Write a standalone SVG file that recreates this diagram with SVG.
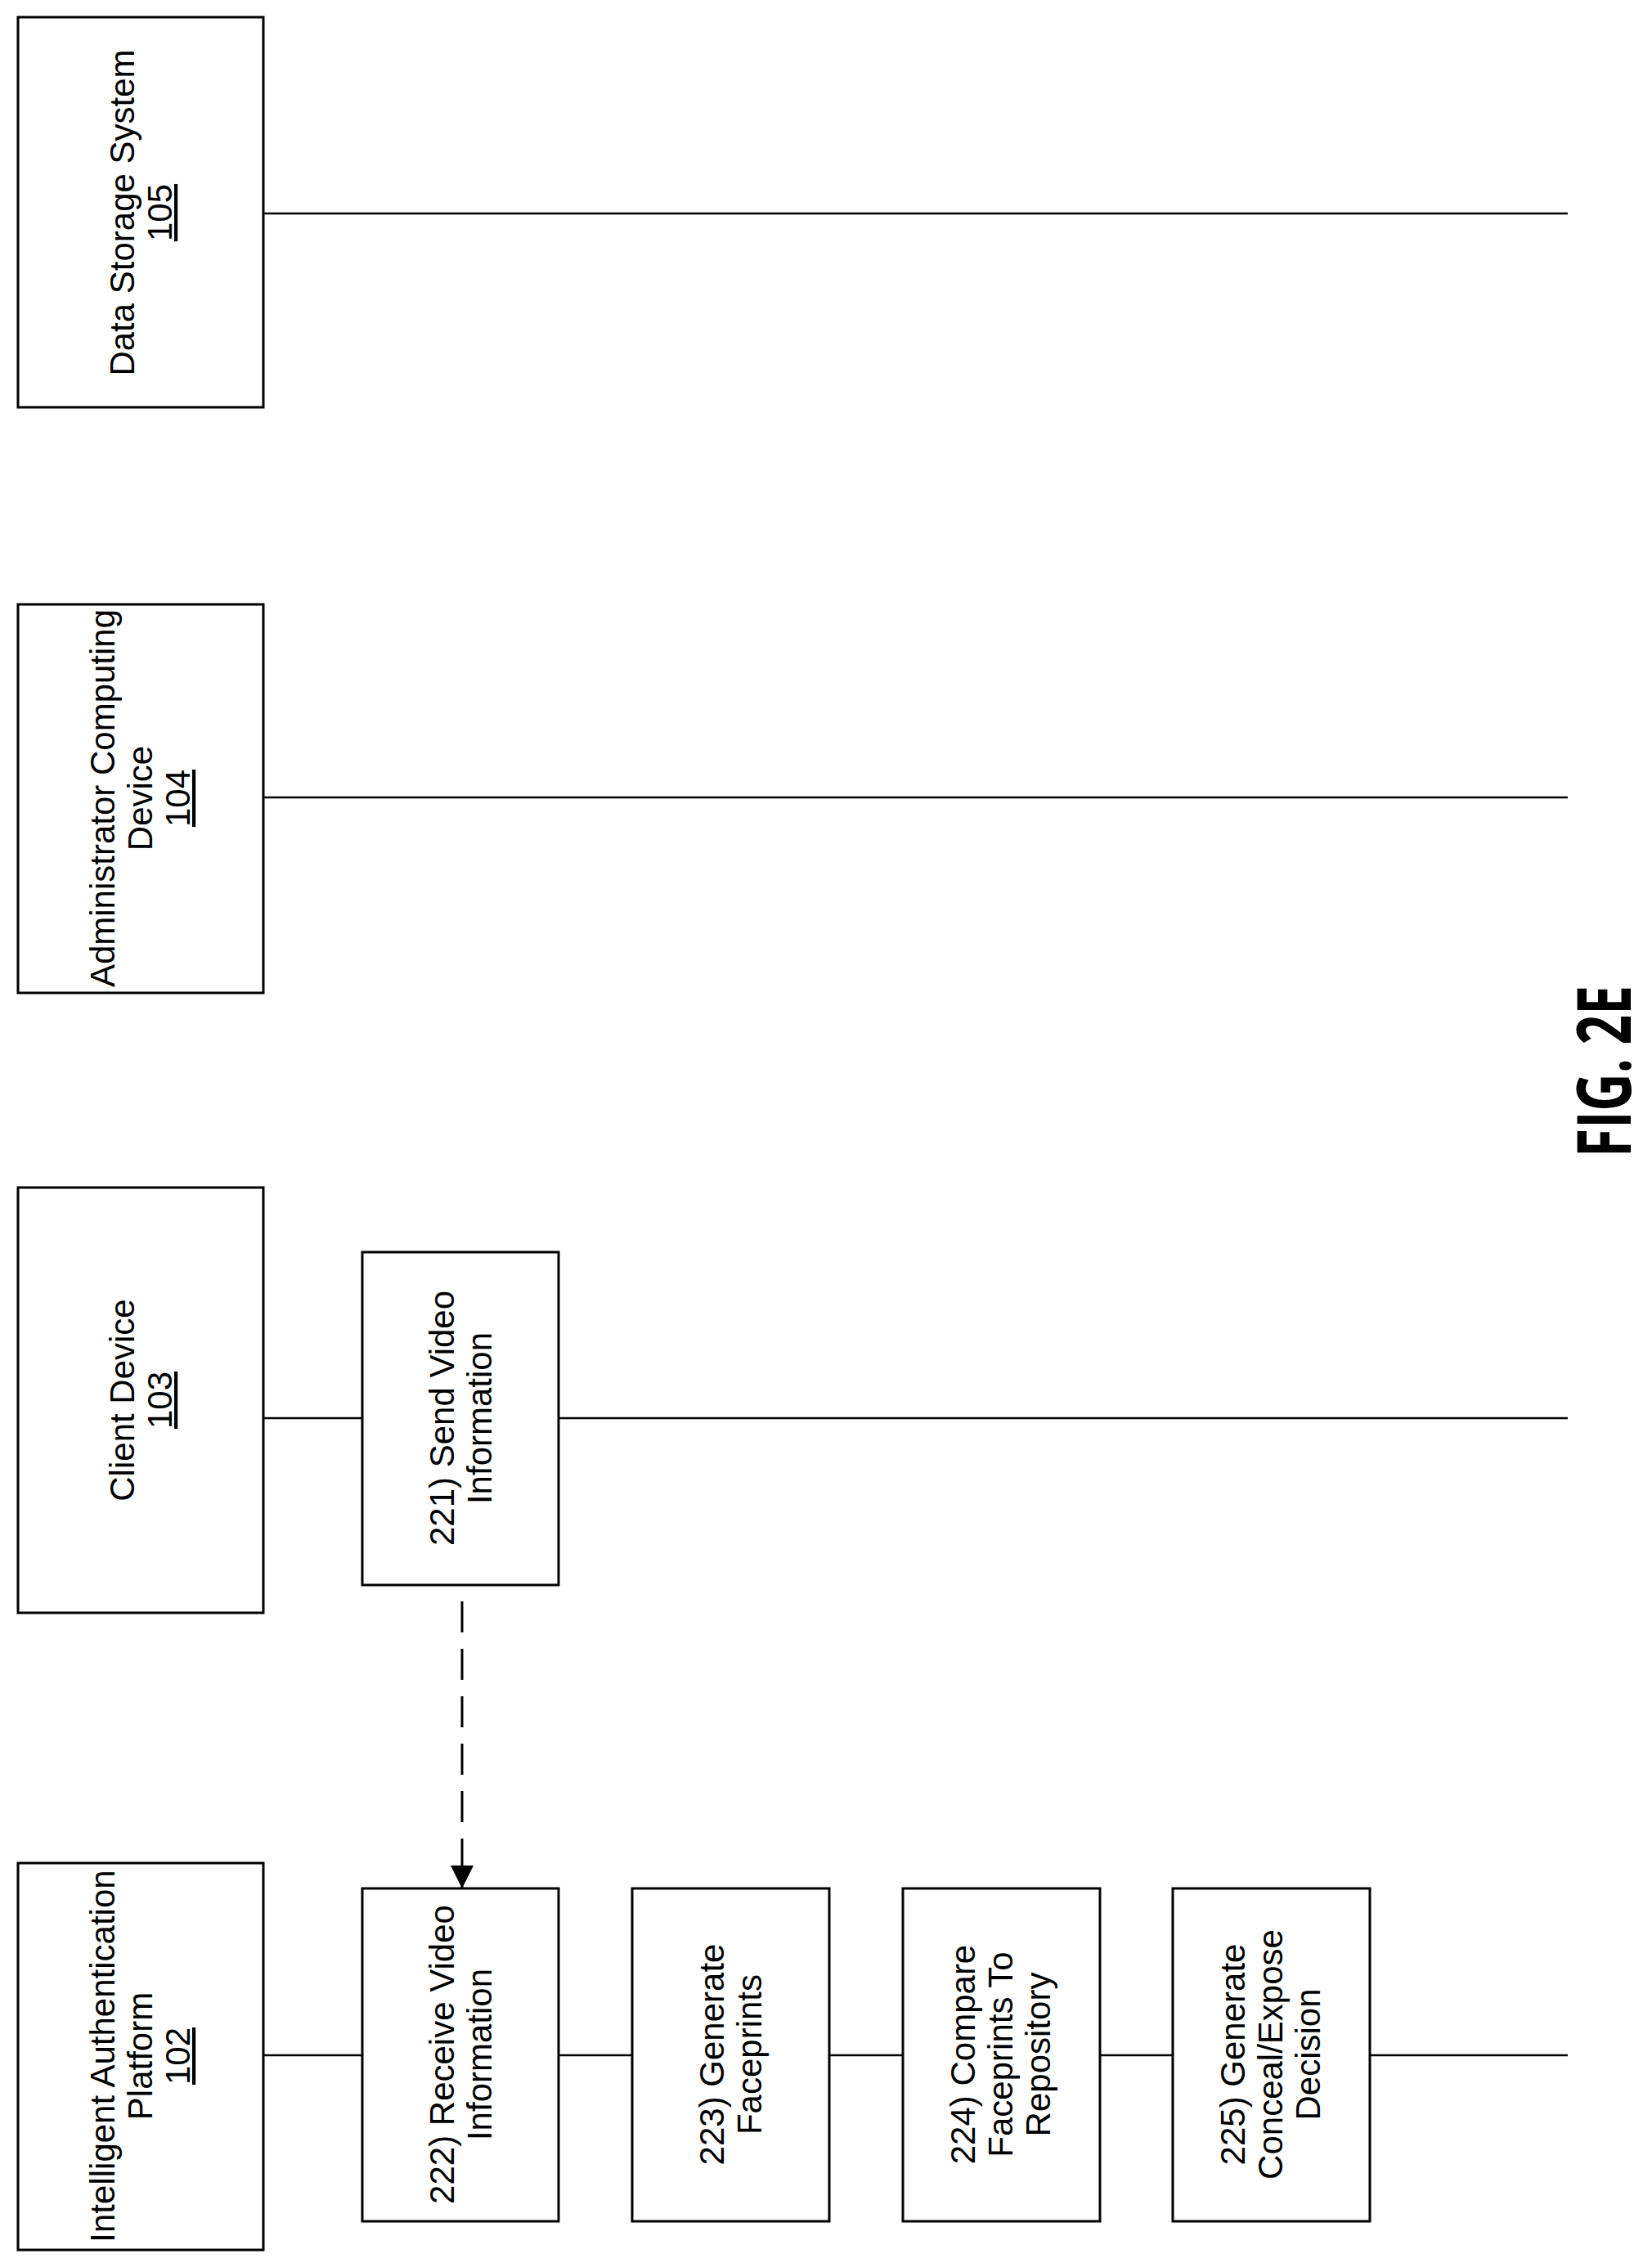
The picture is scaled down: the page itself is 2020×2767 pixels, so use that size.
<svg xmlns="http://www.w3.org/2000/svg" width="2020" height="2767" viewBox="0 0 2020 2767">
<style>
.b{fill:#fff;stroke:#000;stroke-width:3}
.t{font-family:"Liberation Sans",Arial,sans-serif;font-size:42px;text-anchor:middle;fill:#000}
.u{text-decoration:underline}
.l{stroke:#000;stroke-width:2.5;fill:none}
</style>
<defs>
<marker id="ah" markerWidth="28" markerHeight="28" refX="28" refY="14" orient="auto" markerUnits="userSpaceOnUse" viewBox="0 0 28 28"><path d="M0,0 L28,14 L0,28 z"/></marker>
</defs>
<g id="connectors">
<line class="l" x1="322" y1="261" x2="1917" y2="261"/>
<line class="l" x1="322" y1="975" x2="1917" y2="975"/>
<line class="l" x1="322" y1="1734" x2="443" y2="1734"/>
<line class="l" x1="683" y1="1734" x2="1917" y2="1734"/>
<line class="l" x1="322" y1="2513" x2="443" y2="2513"/>
<line class="l" x1="683" y1="2513" x2="773" y2="2513"/>
<line class="l" x1="1014" y1="2513" x2="1104" y2="2513"/>
<line class="l" x1="1345" y1="2513" x2="1434" y2="2513"/>
<line class="l" x1="1675" y1="2513" x2="1917" y2="2513"/>
<line x1="565" y1="1958" x2="565" y2="2309" stroke="#000" stroke-width="3" stroke-dasharray="38,20" marker-end="url(#ah)"/>
</g>
<g id="n105"><rect class="b" x="22" y="21" width="300" height="477"/>
<text class="t" transform="translate(172,260) rotate(-90)"><tspan x="0" y="-8">Data Storage System</tspan><tspan class="u" x="0" y="38">105</tspan></text></g>
<g id="n104"><rect class="b" x="22" y="739" width="300" height="475"/>
<text class="t" transform="translate(172,976) rotate(-90)"><tspan x="0" y="-32">Administrator Computing</tspan><tspan x="0" y="14">Device</tspan><tspan class="u" x="0" y="60">104</tspan></text></g>
<g id="n103"><rect class="b" x="22" y="1452" width="300" height="520"/>
<text class="t" transform="translate(172,1712) rotate(-90)"><tspan x="0" y="-8">Client Device</tspan><tspan class="u" x="0" y="38">103</tspan></text></g>
<g id="n102"><rect class="b" x="22" y="2278" width="300" height="473"/>
<text class="t" transform="translate(172,2514) rotate(-90)"><tspan x="0" y="-32">Intelligent Authentication</tspan><tspan x="0" y="14">Platform</tspan><tspan class="u" x="0" y="60">102</tspan></text></g>
<g id="s221"><rect class="b" x="443" y="1531" width="240" height="407"/>
<text class="t" transform="translate(563,1734) rotate(-90)"><tspan x="0" y="-8">221) Send Video</tspan><tspan x="0" y="38">Information</tspan></text></g>
<g id="s222"><rect class="b" x="443" y="2309" width="240" height="407"/>
<text class="t" transform="translate(563,2512) rotate(-90)"><tspan x="0" y="-8">222) Receive Video</tspan><tspan x="0" y="38">Information</tspan></text></g>
<g id="s223"><rect class="b" x="773" y="2309" width="241" height="407"/>
<text class="t" transform="translate(893,2512) rotate(-90)"><tspan x="0" y="-8">223) Generate</tspan><tspan x="0" y="38">Faceprints</tspan></text></g>
<g id="s224"><rect class="b" x="1104" y="2309" width="241" height="407"/>
<text class="t" transform="translate(1224,2512) rotate(-90)"><tspan x="0" y="-32">224) Compare</tspan><tspan x="0" y="14">Faceprints To</tspan><tspan x="0" y="60">Repository</tspan></text></g>
<g id="s225"><rect class="b" x="1434" y="2309" width="241" height="407"/>
<text class="t" transform="translate(1554,2512) rotate(-90)"><tspan x="0" y="-32">225) Generate</tspan><tspan x="0" y="14">Conceal/Expose</tspan><tspan x="0" y="60">Decision</tspan></text></g>
<text transform="translate(1994,1310) rotate(-90)" x="0" y="0" font-family="'Open Sans','DejaVu Sans',sans-serif" font-weight="bold" font-size="92" text-anchor="middle" textLength="210" lengthAdjust="spacingAndGlyphs">FIG. 2E</text>
</svg>
